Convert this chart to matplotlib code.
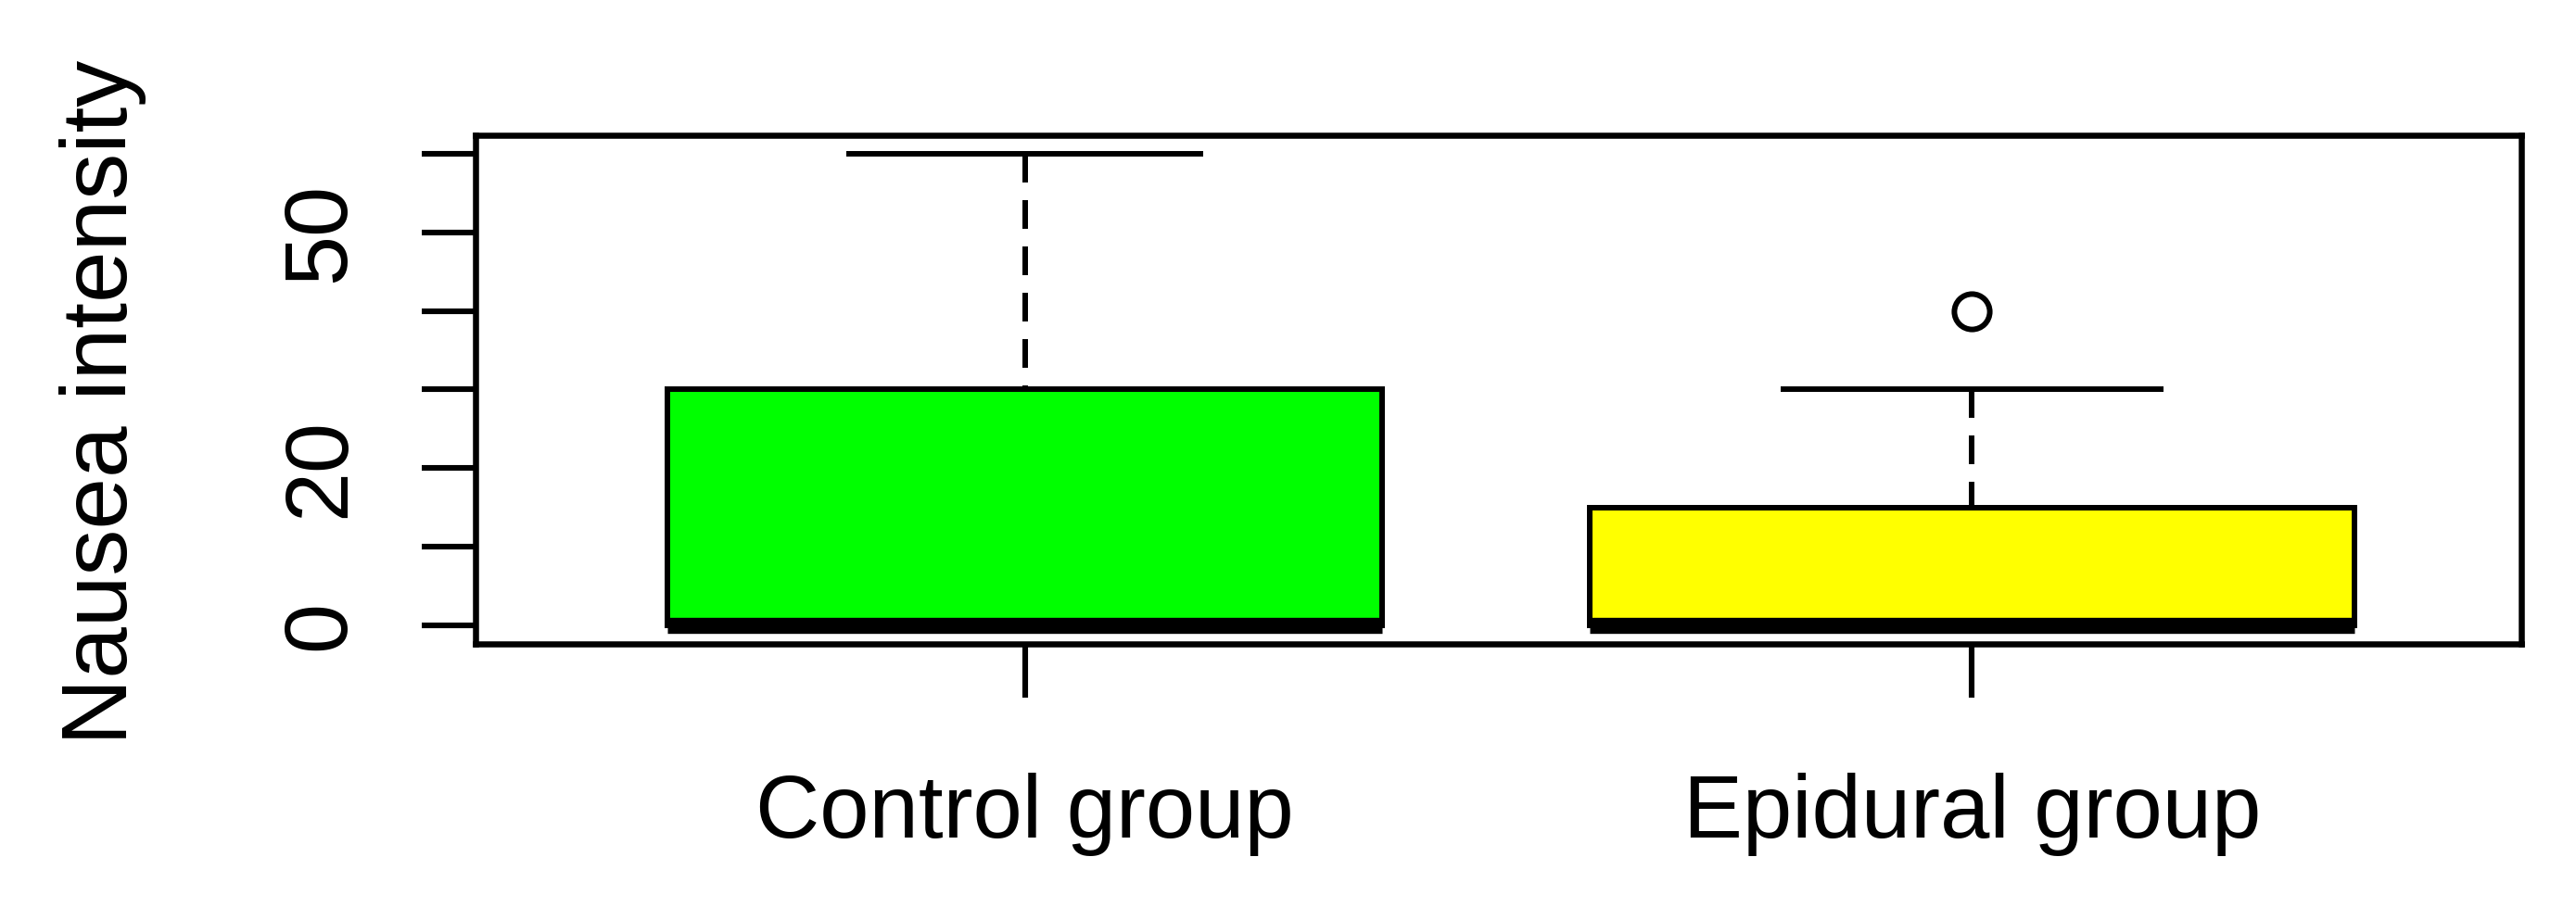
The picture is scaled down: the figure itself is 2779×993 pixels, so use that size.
import matplotlib
matplotlib.use("Agg")
import matplotlib.pyplot as plt

# ---- data ----
groups = ["Control group", "Epidural group"]
medians = [0, 0]
q1 = [0, 0]
q3 = [30, 15]
whisker_low = [0, 0]
whisker_high = [60, 30]
outliers = [[], [40]]
box_colors = ["#00FF00", "#FFFF00"]
ytick_values = [0, 10, 20, 30, 40, 50, 60]
ytick_labels = ["0", "", "20", "", "", "50", ""]
ylabel = "Nausea intensity"

plt.rcParams['font.family'] = ['Liberation Sans', 'DejaVu Sans']
plt.rcParams['lines.scale_dashes'] = False

fig = plt.figure(figsize=(27.79, 9.93), dpi=100)
ax = fig.add_axes([0.1846, 0.3001, 0.7942, 0.5529])

stats = []
for i, g in enumerate(groups):
    stats.append(dict(label=g, med=medians[i], q1=q1[i], q3=q3[i],
                      whislo=whisker_low[i], whishi=whisker_high[i],
                      fliers=outliers[i]))

positions = [1, 2]
widths = [0.754, 0.808]
lw = 4.3
res = ax.bxp(stats, positions=positions, widths=widths, patch_artist=True,
             capwidths=[w / 2 for w in widths],
             boxprops=dict(linewidth=lw, edgecolor="black"),
             medianprops=dict(linewidth=12.5, color="black", solid_capstyle="butt"),
             whiskerprops=dict(linewidth=lw, color="black",
                               linestyle=(0, (22.3, 13.7)), dash_capstyle="butt"),
             capprops=dict(linewidth=lw, color="black", solid_capstyle="butt"),
             flierprops=dict(marker="o", markersize=27.5, markerfacecolor="none",
                             markeredgecolor="black", markeredgewidth=4.3))
for patch, c in zip(res["boxes"], box_colors):
    patch.set_facecolor(c)
# R starts the dash pattern at the whisker end: reverse whisker direction
for wl in res["whiskers"]:
    xd, yd = wl.get_data()
    wl.set_data(list(xd)[::-1], list(yd)[::-1])

ax.set_xlim(0.42, 2.58)
ax.set_ylim(-2.4, 62.4)

ax.set_xticks(positions)
ax.set_xticklabels(groups, fontsize=69)
ax.set_yticks(ytick_values)
ax.set_yticklabels(ytick_labels, fontsize=70, rotation=90, va="center")

ax.tick_params(axis="both", direction="out", length=42, width=4.4, color="black")
ax.tick_params(axis="x", pad=58)
ax.tick_params(axis="y", pad=46)

for s in ax.spines.values():
    s.set_linewidth(4.7)
    s.set_color("black")
    s.set_capstyle("projecting")

ax.set_ylabel(ylabel, fontsize=72)
ax.yaxis.set_label_coords(-0.1609, 0.4754)

fig.savefig("out.png", dpi=100, facecolor="white")
